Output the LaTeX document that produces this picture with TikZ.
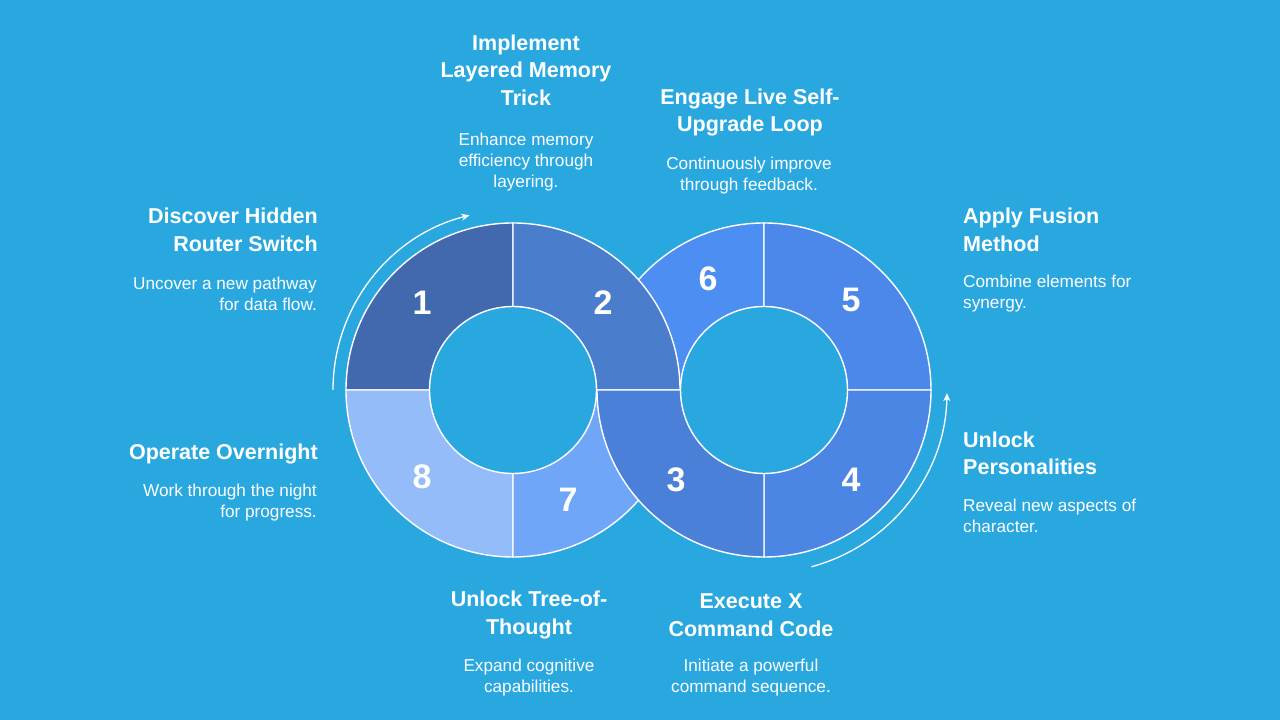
\documentclass[tikz,border=0pt]{standalone}
\usepackage{fontspec}
\setmainfont{Liberation Sans}
\usetikzlibrary{arrows.meta}
\definecolor{bg}{RGB}{41,168,224}
\definecolor{cone}{RGB}{66,104,174}
\definecolor{ctwo}{RGB}{74,126,204}
\definecolor{cthree}{RGB}{74,128,216}
\definecolor{cfour}{RGB}{76,134,228}
\definecolor{cfive}{RGB}{76,136,234}
\definecolor{csix}{RGB}{76,142,242}
\definecolor{cseven}{RGB}{112,166,248}
\definecolor{ceight}{RGB}{148,188,248}
\newcommand\annseg[4]{%
  \path[seg, fill=#4] ([shift={(#2:167)}]#1) arc[start angle=#2, end angle=#3, radius=167]
    -- ([shift={(#3:83.5)}]#1) arc[start angle=#3, end angle=#2, radius=83.5] -- cycle;}
\begin{document}
\begin{tikzpicture}[x=1pt,y=1pt,
  seg/.style={draw=white, line width=1.4pt, line join=round},
  num/.style={text=white, font=\fontsize{34}{34}\selectfont\bfseries, inner sep=0},
  head/.style={text=white, font=\fontsize{21.5}{27.5}\selectfont\bfseries, inner sep=0},
  desc/.style={text=white, font=\fontsize{17.2}{21}\selectfont, inner sep=0},
  flow/.style={draw=white, line width=1.3pt, -{Stealth[length=8pt,width=7pt]}}]
\fill[bg] (0,0) rectangle (1280,720);
\useasboundingbox (0,0) rectangle (1280,720);
\coordinate (cl) at (513,330);
\coordinate (cr) at (764,330);
% right ring (under)
\annseg{cr}{90}{180}{csix}
\annseg{cr}{0}{90}{cfive}
\annseg{cr}{270}{360}{cfour}
% left ring
\annseg{cl}{90}{180}{cone}
\annseg{cl}{0}{90}{ctwo}
\annseg{cl}{180}{270}{ceight}
\annseg{cl}{270}{360}{cseven}
% right ring piece over
\annseg{cr}{180}{270}{cthree}
% flow arcs
\draw[flow] ([shift={(180:180)}]cl) arc[start angle=180, end angle=104, radius=180];
\draw[flow] ([shift={(-75:183)}]cr) arc[start angle=-75, end angle=-1, radius=183];
% numbers
\node[num] (n1) at (422,417) {1};
\node[num] (n2) at (603,417) {2};
\node[num] (n8) at (422,243) {8};
\node[num] (n7) at (568,220) {7};
\node[num] (n3) at (676,240) {3};
\node[num] (n4) at (851,240) {4};
\node[num] (n6) at (708,441) {6};
\node[num] (n5) at (851,420) {5};
% texts
\node[head, align=center] (h2) at (526,650) {Implement\\Layered Memory\\Trick};
\node[desc, align=center] (d2) at (526,558) {Enhance memory\\efficiency through\\layering.};
\node[head, align=center] (h6) at (750,607.5) {Engage Live Self-\\Upgrade Loop};
\node[desc, align=center] (d6) at (749,544.5) {Continuously improve\\through feedback.};
\node[head, align=left, anchor=west] (h5) at (963,490) {Apply Fusion\\Method};
\node[desc, align=left, anchor=west] (d5) at (963,426) {Combine elements for\\synergy.};
\node[head, align=left, anchor=west] (h4) at (963,266.5) {Unlock\\Personalities};
\node[desc, align=left, anchor=west] (d4) at (963,204) {Reveal new aspects of\\character.};
\node[head, align=right, anchor=east] (h1) at (318,490) {Discover Hidden\\Router Switch};
\node[desc, align=right, anchor=east] (d1) at (317,426) {Uncover a new pathway\\for data flow.};
\node[head, align=right, anchor=east] (h8) at (318,266) {Operate Overnight};
\node[desc, align=right, anchor=east] (d8) at (317,217) {Work through the night\\for progress.};
\node[head, align=center] (h7) at (529,105) {Unlock Tree-of-\\Thought};
\node[desc, align=center] (d7) at (529,42.5) {Expand cognitive\\capabilities.};
\node[head, align=center] (h3) at (751,105) {Execute X\\Command Code};
\node[desc, align=center] (d3) at (751,42.5) {Initiate a powerful\\command sequence.};
\end{tikzpicture}
\end{document}
